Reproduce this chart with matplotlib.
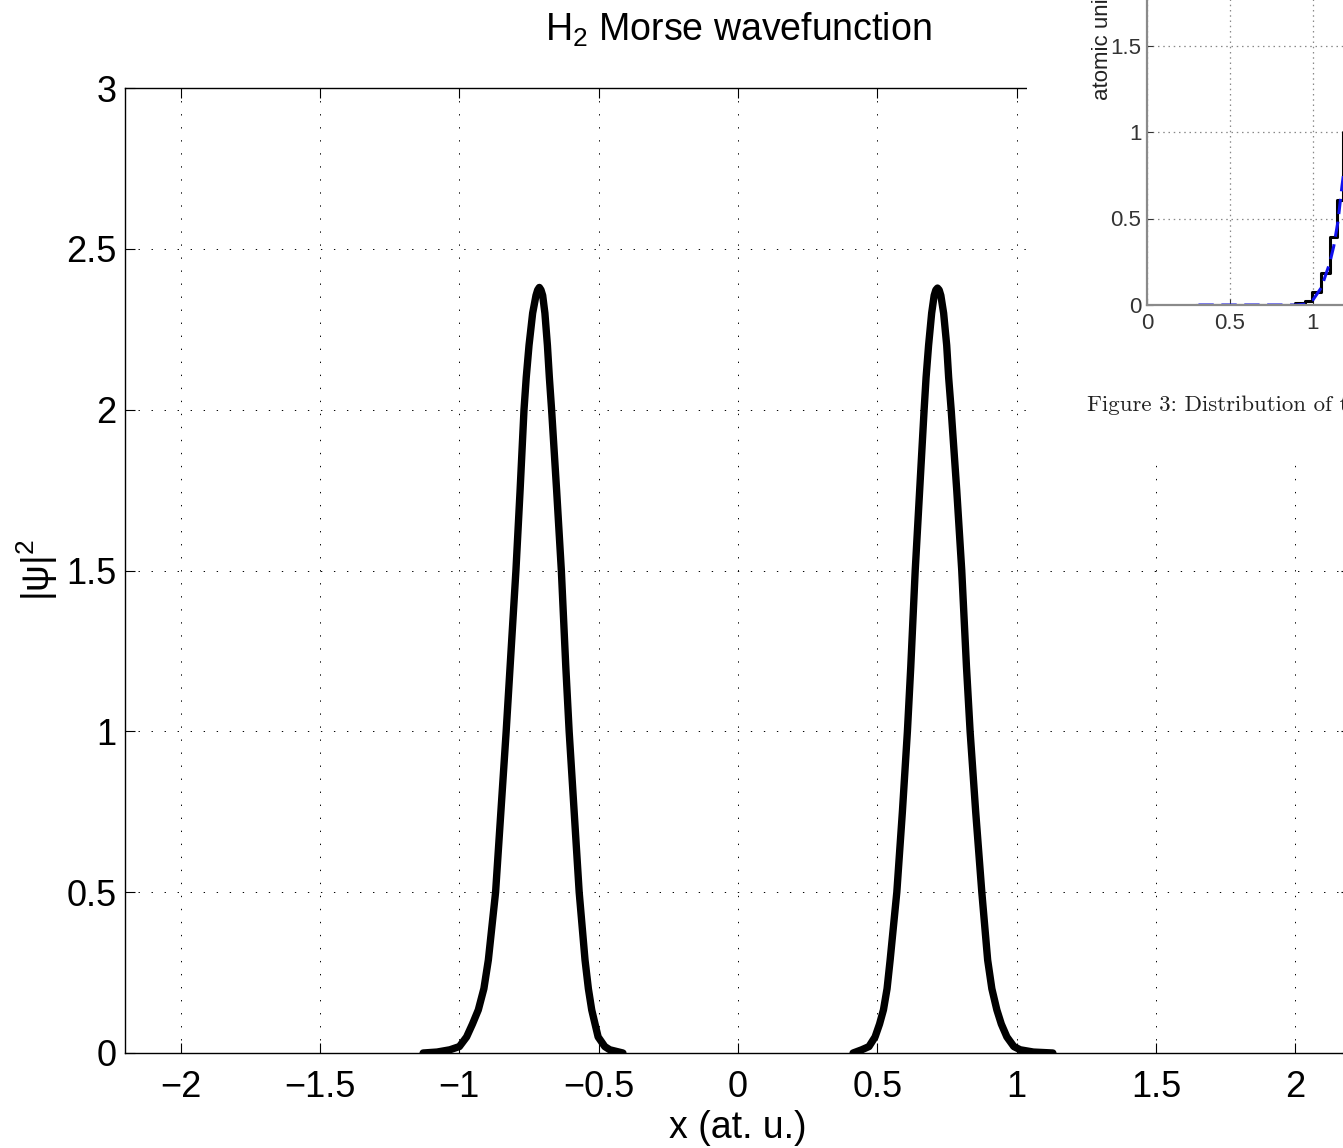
import matplotlib
matplotlib.use("Agg")
import matplotlib.pyplot as plt
from matplotlib.patches import Rectangle

plt.rcParams['font.family'] = ['Liberation Sans', 'DejaVu Sans']
plt.rcParams['mathtext.fontset'] = 'custom'
plt.rcParams['mathtext.rm'] = 'Liberation Sans'
plt.rcParams['mathtext.it'] = 'Liberation Sans'
plt.rcParams['mathtext.bf'] = 'Liberation Sans:bold'

# ---------------- main data ----------------
left_x = [-1.13, -1.08, -1.034, -1.0, -0.974, -0.953, -0.932, -0.912, -0.896, -0.870,
          -0.851, -0.832, -0.818, -0.797, -0.782, -0.768, -0.760, -0.750, -0.737,
          -0.725, -0.719, -0.713, -0.707, -0.701, -0.693, -0.684, -0.677, -0.669,
          -0.651, -0.634, -0.618, -0.606, -0.588, -0.570, -0.549, -0.537, -0.525,
          -0.513, -0.502, -0.478, -0.46, -0.413]
left_y = [0.0, 0.003, 0.01, 0.02, 0.05, 0.09, 0.134, 0.2, 0.289, 0.5,
          0.75, 1.0, 1.2, 1.5, 1.75, 2.0, 2.1, 2.2, 2.3,
          2.355, 2.372, 2.38, 2.372, 2.355, 2.3, 2.2, 2.1, 2.0,
          1.75, 1.5, 1.2, 1.0, 0.75, 0.5, 0.289, 0.2, 0.134,
          0.09, 0.05, 0.02, 0.01, 0.0]
right_x = [0.413, 0.444, 0.470, 0.492, 0.508, 0.522, 0.535, 0.546, 0.570, 0.590,
           0.608, 0.620, 0.636, 0.652, 0.668, 0.675, 0.684, 0.695, 0.704, 0.710,
           0.716, 0.722, 0.728, 0.738, 0.749, 0.756, 0.765, 0.785, 0.803, 0.820,
           0.833, 0.853, 0.875, 0.896, 0.911, 0.929, 0.945, 0.965, 0.990, 1.013,
           1.06, 1.13]
right_y = [0.0, 0.01, 0.02, 0.05, 0.09, 0.134, 0.2, 0.289, 0.5, 0.75,
           1.0, 1.2, 1.5, 1.75, 2.0, 2.1, 2.2, 2.3, 2.355, 2.372,
           2.378, 2.372, 2.355, 2.3, 2.2, 2.1, 2.0, 1.75, 1.5, 1.2,
           1.0, 0.75, 0.5, 0.289, 0.2, 0.134, 0.09, 0.05, 0.02, 0.01,
           0.003, 0.0]
x_ticks = [-2, -1.5, -1, -0.5, 0, 0.5, 1, 1.5, 2]
x_tick_labels = ['\u22122', '\u22121.5', '\u22121', '\u22120.5', '0', '0.5', '1', '1.5', '2']
y_ticks = [0, 0.5, 1, 1.5, 2, 2.5, 3]
y_tick_labels = ['0', '0.5', '1', '1.5', '2', '2.5', '3']

# ---------------- overlay (pasted figure) data ----------------
step_edges = [0.3, 0.894, 0.95, 0.994, 1.05, 1.1, 1.146, 1.18, 1.25]
step_vals = [0.0, 0.01, 0.023, 0.078, 0.184, 0.393, 0.607, 1.0]
blue_x = [0.31, 0.5, 0.9, 0.95, 1.0, 1.05, 1.1, 1.125, 1.15, 1.175, 1.19, 1.21]
blue_y = [0.0, 0.0, 0.0, 0.005, 0.03, 0.1, 0.24, 0.34, 0.48, 0.69, 0.8, 0.95]
inset_xticks = [0, 0.5, 1, 1.5, 2]
inset_xtick_labels = ['0', '0.5', '1', '1.5', '2']
inset_yticks = [0, 0.5, 1, 1.5, 2]
inset_ytick_labels = ['0', '0.5', '1', '1.5', '2']

W, H = 1343, 1148
fig = plt.figure(figsize=(W / 100, H / 100), dpi=100)
fig.patch.set_facecolor('white')

def px_rect(l, t, r, b):
    return [l / W, (H - b) / H, (r - l) / W, (b - t) / H]

ax = fig.add_axes(px_rect(125, 88, 1351, 1053))
ax.plot(left_x, left_y, color='black', lw=5.3, solid_capstyle='round', solid_joinstyle='round')
ax.plot(right_x, right_y, color='black', lw=5.3, solid_capstyle='round', solid_joinstyle='round')
ax.set_xlim(-2.2, 2.2)
ax.set_ylim(0, 3)
ax.set_xticks(x_ticks)
ax.set_yticks(y_ticks)
ax.set_xticklabels(x_tick_labels)
ax.set_yticklabels(y_tick_labels)
ax.tick_params(direction='in', length=7, width=0.8, top=True, right=True,
               labelsize=26)
ax.tick_params(axis='x', pad=12)
ax.tick_params(axis='y', pad=6)
for s in ax.spines.values():
    s.set_linewidth(1.0)
ax.grid(True, color='black', lw=0.7, linestyle=(0, (1.4, 12)))
ax.set_axisbelow(True)
ax.set_title('H$_2$ Morse wavefunction', fontsize=27, pad=34)
ax.set_xlabel('x (at. u.)', fontsize=27)
ax.xaxis.set_label_coords(0.5, -0.059)
ax.set_ylabel(r'$|\mathrm{\psi}|^2$', fontsize=27)
ax.yaxis.set_label_coords(-0.053, 0.5)

# white patch covering the upper-right corner
fig.add_artist(Rectangle((1027 / W, (H - 458) / H), (W - 1027) / W + 0.01, 458 / H + 0.01,
                         transform=fig.transFigure, facecolor='white', edgecolor='none',
                         zorder=5))

# pasted inset figure
ai = fig.add_axes(px_rect(1147, -41, 1562, 305), zorder=6)
ai.step(step_edges, step_vals + [step_vals[-1]], where='post', color='black', lw=2.2)
ai.plot(blue_x, blue_y, color='#1010ee', lw=2.2, linestyle=(0, (5, 2.5)))
ai.set_xlim(0, 2.5)
ai.set_ylim(0, 2)
ai.set_xticks(inset_xticks)
ai.set_yticks(inset_yticks)
ai.set_xticklabels(inset_xtick_labels)
ai.set_yticklabels(inset_ytick_labels)
ai.tick_params(direction='in', length=4, width=0.8, labelsize=16, colors='#333333')
ai.tick_params(axis='y', pad=4)
ai.tick_params(axis='x', pad=6)
for s in ai.spines.values():
    s.set_color('#8a8a8a')
    s.set_linewidth(1.6)
ai.grid(True, color='#888888', lw=0.9, linestyle=(0, (1.2, 3)))
ai.set_axisbelow(True)

fig.text(1103 / W, (H - 100) / H, 'atomic units', rotation=90, ha='center', va='bottom',
         fontsize=16, color='#222222', zorder=7)
fig.text(1087 / W, (H - 411) / H, 'Figure 3: Distribution of the', fontsize=16.5,
         family=['cmr10', 'DejaVu Serif'], color='#222222', ha='left', va='baseline', zorder=7)

fig.savefig('out.png', dpi=100, facecolor='white')
